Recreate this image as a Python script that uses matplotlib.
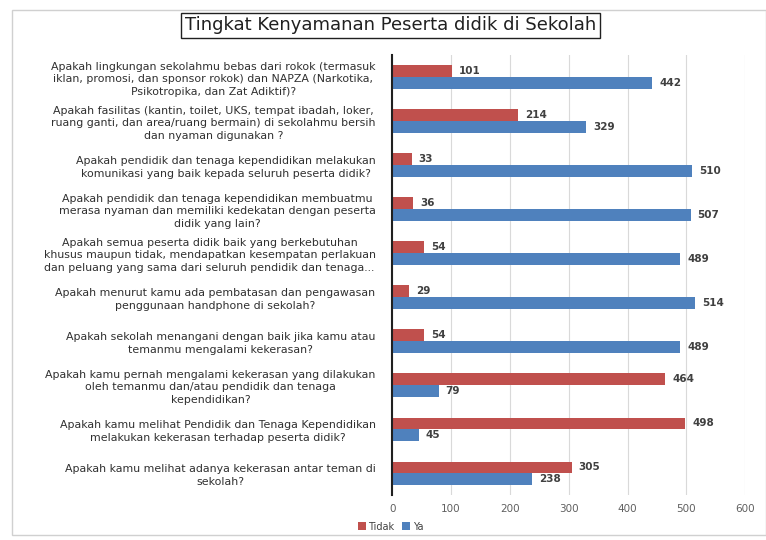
import numpy as np
import matplotlib.pyplot as plt
from matplotlib.patches import Rectangle

# data
questions = [
    "Apakah lingkungan sekolahmu bebas dari rokok (termasuk\niklan, promosi, dan sponsor rokok) dan NAPZA (Narkotika,\nPsikotropika, dan Zat Adiktif)?",
    "Apakah fasilitas (kantin, toilet, UKS, tempat ibadah, loker,\nruang ganti, dan area/ruang bermain) di sekolahmu bersih\ndan nyaman digunakan ?",
    "Apakah pendidik dan tenaga kependidikan melakukan\nkomunikasi yang baik kepada seluruh peserta didik?",
    "Apakah pendidik dan tenaga kependidikan membuatmu\nmerasa nyaman dan memiliki kedekatan dengan peserta\ndidik yang lain?",
    "Apakah semua peserta didik baik yang berkebutuhan\nkhusus maupun tidak, mendapatkan kesempatan perlakuan\ndan peluang yang sama dari seluruh pendidik dan tenaga...",
    "Apakah menurut kamu ada pembatasan dan pengawasan\npenggunaan handphone di sekolah?",
    "Apakah sekolah menangani dengan baik jika kamu atau\ntemanmu mengalami kekerasan?",
    "Apakah kamu pernah mengalami kekerasan yang dilakukan\noleh temanmu dan/atau pendidik dan tenaga\nkependidikan?",
    "Apakah kamu melihat Pendidik dan Tenaga Kependidikan\nmelakukan kekerasan terhadap peserta didik?",
    "Apakah kamu melihat adanya kekerasan antar teman di\nsekolah?",
]
tidak = [101, 214, 33, 36, 54, 29, 54, 464, 498, 305]
ya = [442, 329, 510, 507, 489, 514, 489, 79, 45, 238]
xticks = [0, 100, 200, 300, 400, 500, 600]

red = '#C0504D'
blue = '#4F81BD'

fig = plt.figure(figsize=(7.66, 5.4), dpi=100)
# outer chart border
fig.patches.append(Rectangle((0.016, 0.01), 0.984, 0.972, transform=fig.transFigure,
                             fill=False, edgecolor='#d0d0d0', linewidth=1))

ax = fig.add_axes([0.512, 0.083, 0.461, 0.815])
y = np.arange(len(questions))
h = 0.26
off = 0.135
b1 = ax.barh(y - off, tidak, height=h, color=red, label='Tidak', zorder=3)
b2 = ax.barh(y + off, ya, height=h, color=blue, label='Ya', zorder=3)

for bars in (b1, b2):
    for r in bars:
        ax.text(r.get_width() + 12, r.get_y() + r.get_height() / 2, '%d' % r.get_width(),
                va='center', ha='left', fontsize=7.5, color='#404040', fontweight='bold')

ax.set_ylim(len(questions) - 0.5, -0.5)
ax.set_xlim(0, 600)
ax.set_yticks(y)
ax.set_yticklabels(questions, fontsize=7.9, color='#303030', multialignment='center',
                   linespacing=1.3)
ax.set_xticks(xticks)
ax.set_xticklabels([str(t) for t in xticks], fontsize=7.5, color='#606060')
ax.tick_params(axis='both', length=0)
ax.tick_params(axis='y', pad=12)
ax.tick_params(axis='x', pad=6)
ax.grid(axis='x', color='#d9d9d9', linewidth=0.8, zorder=0)
for s in ('top', 'right', 'bottom'):
    ax.spines[s].set_visible(False)
ax.spines['left'].set_color('#202020')
ax.spines['left'].set_linewidth(1.5)
ax.spines['left'].set_zorder(4)

fig.legend(handles=[b1, b2], loc='center', bbox_to_anchor=(0.51, 0.025), ncol=2,
           frameon=False, fontsize=7, handlelength=0.8, handleheight=0.8,
           handletextpad=0.3, columnspacing=0.8, labelcolor='#404040')

fig.text(0.51, 0.953, 'Tingkat Kenyamanan Peserta didik di Sekolah', ha='center', va='center',
         fontsize=13, color='#202020',
         bbox=dict(boxstyle='square,pad=0.2', facecolor='white', edgecolor='#202020', linewidth=1))

fig.savefig('out.png', dpi=100)
